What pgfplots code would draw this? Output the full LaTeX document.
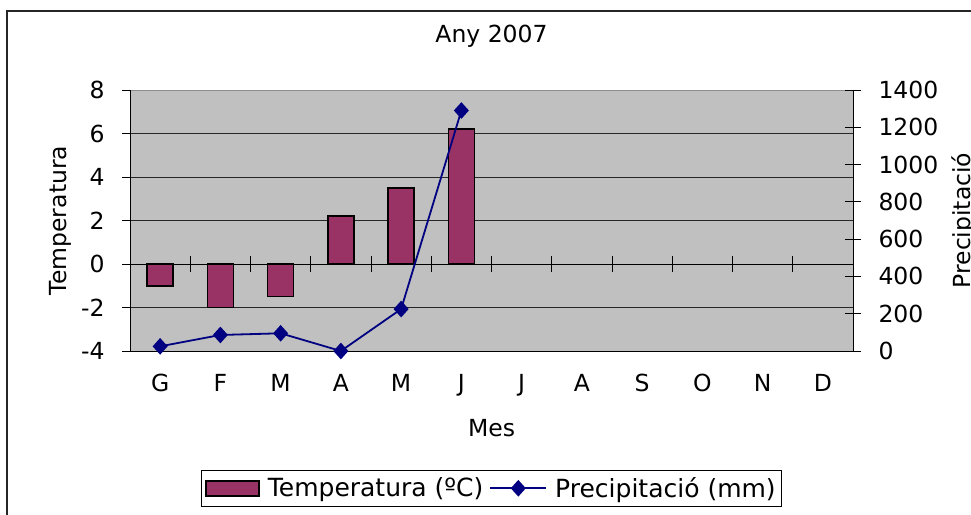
\documentclass[border=0pt]{standalone}
\usepackage{fontspec}
\setmainfont{DejaVu Sans}
\usepackage{pgfplots}
\pgfplotsset{compat=1.18}
\definecolor{barc}{RGB}{153,51,102}
\definecolor{linec}{RGB}{0,0,128}
\definecolor{bgc}{RGB}{192,192,192}
\newcommand\ff{\fontsize{23.5}{28}\selectfont}
\newcommand\lf{\fontsize{25}{29}\selectfont}
\pgfplotsset{
  linelegend/.style={legend image code/.code={\draw[mark repeat=2, mark phase=2, ##1] plot coordinates {(0pt,0pt)(28pt,0pt)(56pt,0pt)};}},
  barlegend/.style={legend image code/.code={\draw[fill=barc, draw=black, line width=1.6pt] (0pt,-7.5pt) rectangle (53pt,7.5pt);}},
  base/.style={scale only axis, width=723pt, height=261pt, at={(130pt,-351pt)}, anchor=south west,
    xmin=0.5, xmax=12.5,
    tick label style={font=\ff}, label style={font=\ff},
    /pgf/number format/assume math mode=true, /pgf/number format/1000 sep={}},
}
\begin{document}
\begin{tikzpicture}
\useasboundingbox (0,0) rectangle (971pt,-514pt);
\draw[line width=2pt, black!85] (7pt,-10.5pt) rectangle (1100pt,-700pt);
\begin{axis}[base, ymin=-4, ymax=8,
  axis background/.style={fill=bgc, draw=black!45},
  axis x line*=bottom, axis y line*=left,
  axis line style={-, line width=1pt},
  ytick={-4,-2,...,6}, extra y ticks={8}, extra y tick style={grid=none},
  ymajorgrids, grid style={line width=1pt, black!85},
  ytick align=outside, major tick length=8pt, ytick style={line width=1pt, black},
  yticklabel style={xshift=-14pt},
  xtick={1,...,12}, xticklabels={G,F,M,A,M,J,J,A,S,O,N,D},
  xtick style={draw=none}, xticklabel style={yshift=-20pt},
  xlabel={Mes}, xlabel style={at={(axis description cs:0.5,0)}, anchor=center, yshift=-77pt},
  ylabel={Temperatura}, ylabel style={at={(axis description cs:0,0.5)}, anchor=center, yshift=70pt},
  title={Any 2007}, title style={font=\ff, at={(axis description cs:0.5,1)}, anchor=center, yshift=48pt},
]
\addplot[ybar, bar width=26pt, fill=barc, draw=black, line width=1.6pt] coordinates {(1,-1.0)(2,-2.0)(3,-1.5)(4,2.2)(5,3.5)(6,6.2)};
\end{axis}
\begin{axis}[base, ymin=-4, ymax=8, axis x line=middle, axis y line=none,
  axis line style={-, line width=1pt},
  xtick={0.5,1.5,...,12.5}, xticklabels={}, xtick align=center, major tick length=16pt,
  tick style={line width=1pt, black}]
\end{axis}
\begin{axis}[base, ymin=0, ymax=1400, axis y line*=right, axis x line=none, clip=false,
  ytick={0,200,...,1400}, ytick align=center, major tick length=16pt,
  tick style={line width=1pt, black}, axis line style={-, line width=1pt},
  yticklabel style={xshift=14pt},
  ylabel={Precipitació\\(mm)}, ylabel style={align=center, at={(axis description cs:1,0.5)}, anchor=center, yshift=-124pt},
  legend style={at={(axis description cs:0.5,0)}, anchor=north, yshift=-119pt, legend columns=-1,
    font=\lf, draw=black, line width=1pt, inner xsep=4pt, inner ysep=5pt,
    /tikz/every odd column/.append style={column sep=6pt},
    /tikz/every even column/.append style={column sep=4pt}},
]
\addlegendimage{barlegend}
\addlegendentry{Temperatura (ºC)}
\addplot[linec, line width=1.8pt, mark=diamond*, mark size=7pt, mark options={xscale=1.2}, linelegend]
  coordinates {(1,25)(2,86)(3,95)(4,0)(5,225)(6,1290)};
\addlegendentry{Precipitació (mm)}
\end{axis}
\end{tikzpicture}
\end{document}
